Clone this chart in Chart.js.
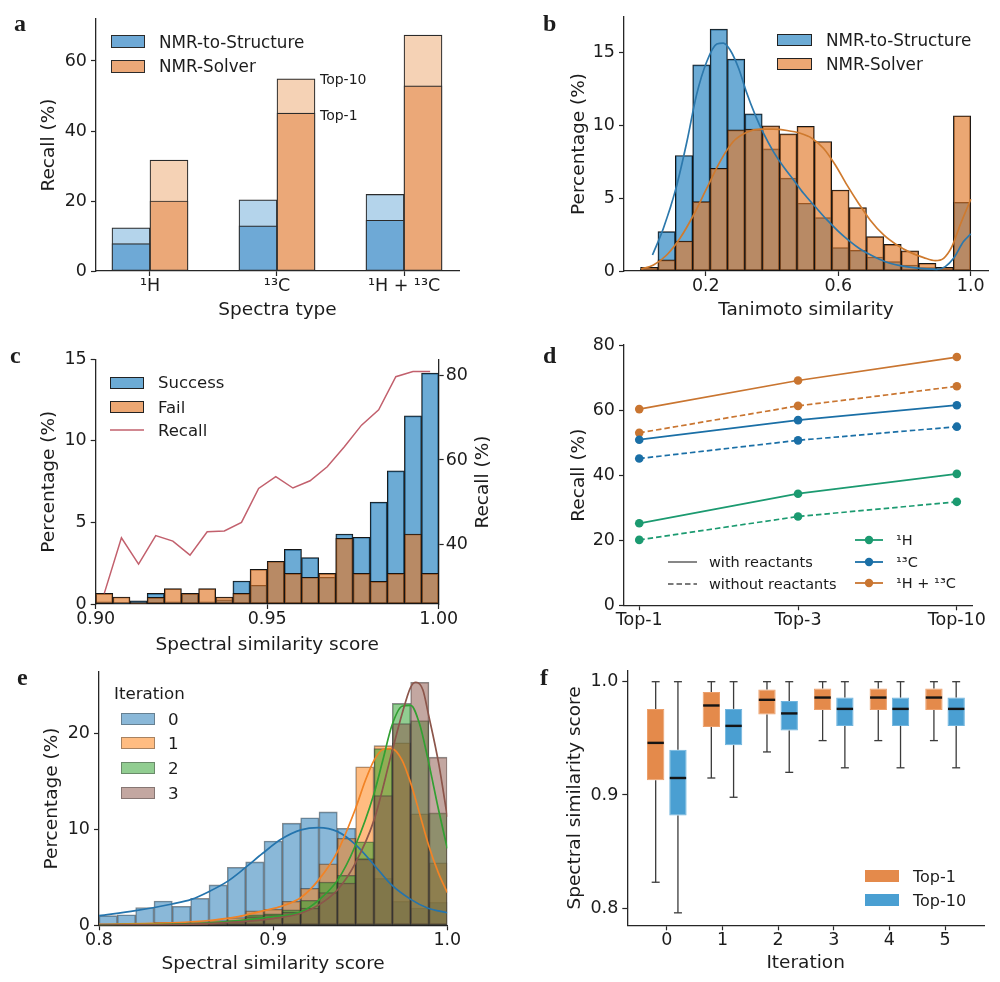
<!DOCTYPE html>
<html lang="en">
<head>
<meta charset="utf-8">
<title>NMR-Solver figure</title>
<script src="https://cdn.jsdelivr.net/npm/chart.js@4.4.1/dist/chart.umd.min.js"></script>
<style>
  html, body { margin:0; padding:0; background:#fff; }
  #wrap { position:relative; width:1000px; height:982px; overflow:hidden; background:#fff;
          font-family:'DejaVu Sans','Noto Sans',sans-serif; color:#1c1c1c; }
  #wrap canvas { position:absolute; }
  .letter { position:absolute; font-family:'Liberation Serif','DejaVu Serif',serif; font-weight:bold;
            font-size:24px; line-height:24px; }
  .t { position:absolute; white-space:nowrap; }
  .p { position:absolute; box-sizing:border-box; }
  .rot { position:absolute; white-space:nowrap; transform:translate(-50%,-50%) rotate(-90deg); }
  svg.overlay { position:absolute; left:0; top:0; pointer-events:none; }
</style>
</head>
<body>
<div id="wrap"></div>
<script>
// ================= DATA =================
// Panel a: recall by spectra type
const aCategories = ['¹H', '¹³C', '¹H + ¹³C'];
const aStructTop1 = [7.8, 12.9, 14.5];
const aStructTop10 = [12.3, 20.3, 21.9];
const aSolverTop1 = [20.0, 45.1, 52.9];
const aSolverTop10 = [31.7, 54.9, 67.4];
const aYTicks = [0, 20, 40, 60];

// Panel b: Tanimoto similarity histogram (19 bins)
const bBinStart = 0.003;
const bBinWidth = 0.05247;
const bStruct = [0.14, 2.71, 7.94, 14.17, 16.63, 14.56, 10.80, 8.39, 6.38, 4.66, 3.67, 1.61, 1.42, 0.96, 0.64, 0.41, 0.23, 0.14, 4.72];
const bSolver = [0.25, 0.76, 2.06, 4.77, 7.06, 9.70, 9.75, 9.98, 9.43, 9.95, 8.90, 5.57, 4.36, 2.36, 1.83, 1.38, 0.53, 0.25, 10.67];
const bStructKdeX = [0.039, 0.072, 0.110, 0.143, 0.172, 0.203, 0.233, 0.253, 0.273, 0.299, 0.322, 0.349, 0.374, 0.404, 0.434, 0.465, 0.495, 0.530, 0.566, 0.601, 0.636, 0.666, 0.701, 0.742, 0.787, 0.827, 0.868, 0.898, 0.923, 0.948, 0.978, 1.0];
const bStructKdeY = [1.10, 2.94, 5.69, 8.90, 12.11, 14.40, 15.60, 15.67, 15.21, 13.94, 12.34, 10.73, 9.47, 8.21, 7.18, 6.26, 5.34, 4.43, 3.51, 2.71, 2.02, 1.51, 1.06, 0.64, 0.37, 0.23, 0.14, 0.11, 0.30, 0.87, 2.02, 2.55];
const bSolverKdeX = [0.005, 0.042, 0.082, 0.122, 0.163, 0.203, 0.243, 0.283, 0.324, 0.364, 0.404, 0.445, 0.485, 0.520, 0.555, 0.591, 0.626, 0.661, 0.696, 0.737, 0.777, 0.817, 0.858, 0.893, 0.918, 0.943, 0.968, 1.0];
const bSolverKdeY = [0.14, 0.41, 1.10, 2.25, 3.85, 5.69, 7.52, 8.90, 9.54, 9.75, 9.75, 9.66, 9.47, 9.13, 8.44, 7.29, 5.92, 4.66, 3.51, 2.48, 1.79, 1.28, 0.92, 0.71, 0.87, 1.67, 3.17, 4.93];
const bXTicks = [0.2, 0.6, 1.0];
const bXLabels = ['0.2', '0.6', '1.0'];
const bYTicks = [0, 5, 10, 15];

// Panel c: success / fail vs spectral similarity (20 bins)
const cBinStart = 0.90;
const cBinWidth = 0.005;
const cSuccess = [0.14, 0.05, 0.20, 0.65, 0.14, 0.65, 0.14, 0.25, 1.41, 1.15, 2.62, 3.35, 2.84, 1.64, 4.29, 4.09, 6.24, 8.16, 11.53, 14.15];
const cFail = [0.65, 0.43, 0.08, 0.41, 0.94, 0.65, 0.94, 0.43, 0.65, 2.13, 2.62, 1.88, 1.64, 1.88, 4.03, 1.88, 1.39, 1.88, 4.29, 1.88];
const cRecall = [28.6, 41.7, 35.5, 42.2, 40.9, 37.6, 43.1, 43.3, 45.3, 53.3, 56.1, 53.4, 55.1, 58.4, 63.1, 68.2, 71.8, 79.6, 80.8, 80.8];
const cXTicks = [0.90, 0.95, 1.00];
const cXLabels = ['0.90', '0.95', '1.00'];
const cYTicks = [0, 5, 10, 15];
const cY2Ticks = [40, 60, 80];

// Panel d: recall vs top-k
const dLabels = ['Top-1', 'Top-3', 'Top-10'];
const dHWith = [25.2, 34.3, 40.4];
const dHWithout = [20.1, 27.3, 31.8];
const dCWith = [50.9, 56.9, 61.5];
const dCWithout = [45.1, 50.7, 54.9];
const dHCWith = [60.3, 69.1, 76.3];
const dHCWithout = [53.0, 61.3, 67.3];
const dYTicks = [0, 20, 40, 60, 80];

// Panel e: spectral similarity per iteration (19 bins)
const eBinStart = 0.80;
const eBinWidth = 0.2 / 19;
const eIter0 = [1.0, 1.1, 1.84, 2.53, 1.98, 2.81, 4.2, 6.04, 6.6, 8.78, 10.63, 11.2, 11.8, 10.1, 7.0, 4.9, 2.5, 1.8, 2.4];
const eIter1 = [0.1, 0.15, 0.2, 0.3, 0.3, 0.4, 0.5, 0.8, 1.5, 1.67, 2.5, 3.85, 6.4, 9.06, 16.5, 18.7, 19.0, 11.6, 6.5];
const eIter2 = [0.05, 0.05, 0.1, 0.1, 0.15, 0.2, 0.3, 0.5, 1.1, 1.2, 1.6, 2.6, 4.5, 5.2, 8.7, 18.4, 23.1, 21.3, 11.7];
const eIter3 = [0.0, 0.05, 0.05, 0.1, 0.1, 0.15, 0.2, 0.4, 0.9, 1.1, 1.35, 1.8, 3.4, 4.4, 6.9, 13.5, 21.0, 25.3, 17.5];
const eKde0X = [0.800, 0.821, 0.842, 0.853, 0.863, 0.874, 0.884, 0.894, 0.905, 0.916, 0.926, 0.937, 0.947, 0.958, 0.968, 0.979, 0.989, 1.0];
const eKde0Y = [1.0, 1.52, 2.22, 2.7, 3.5, 4.6, 6.0, 7.5, 9.0, 9.93, 10.17, 9.75, 8.44, 6.28, 4.2, 2.7, 1.77, 1.31];
const eKde1X = [0.800, 0.830, 0.860, 0.880, 0.894, 0.905, 0.916, 0.926, 0.937, 0.947, 0.953, 0.958, 0.963, 0.968, 0.974, 0.979, 0.984, 0.989, 0.995, 1.0];
const eKde1Y = [0.1, 0.2, 0.45, 0.9, 1.5, 2.0, 2.9, 4.7, 7.7, 12.0, 15.1, 17.2, 18.3, 18.4, 17.2, 14.8, 11.7, 8.5, 5.4, 3.4];
const eKde2X = [0.800, 0.850, 0.880, 0.900, 0.916, 0.926, 0.937, 0.947, 0.958, 0.963, 0.968, 0.974, 0.979, 0.984, 0.989, 0.995, 1.0];
const eKde2Y = [0.05, 0.15, 0.5, 0.9, 1.4, 2.6, 4.7, 8.2, 13.75, 17.2, 20.7, 22.8, 22.9, 21.0, 17.2, 12.0, 8.0];
const eKde3X = [0.800, 0.850, 0.880, 0.900, 0.916, 0.926, 0.937, 0.947, 0.958, 0.968, 0.974, 0.979, 0.982, 0.986, 0.989, 0.995, 1.0];
const eKde3Y = [0.02, 0.1, 0.35, 0.7, 1.25, 2.1, 3.7, 6.4, 11.0, 17.9, 22.0, 24.8, 25.3, 24.5, 22.1, 16.9, 11.3];
const eXTicks = [0.8, 0.9, 1.0];
const eXLabels = ['0.8', '0.9', '1.0'];
const eYTicks = [0, 10, 20];

// Panel f: box plots per iteration
const fIterations = [0, 1, 2, 3, 4, 5];
const fTop1Min = [0.823, 0.915, 0.938, 0.948, 0.948, 0.948];
const fTop1Q1  = [0.913, 0.960, 0.971, 0.975, 0.975, 0.975];
const fTop1Med = [0.946, 0.979, 0.984, 0.986, 0.986, 0.986];
const fTop1Q3  = [0.976, 0.991, 0.993, 0.994, 0.994, 0.994];
const fTop1Max = [1.0, 1.0, 1.0, 1.0, 1.0, 1.0];
const fTop10Min = [0.796, 0.898, 0.920, 0.924, 0.924, 0.924];
const fTop10Q1  = [0.882, 0.944, 0.957, 0.961, 0.961, 0.961];
const fTop10Med = [0.915, 0.961, 0.972, 0.976, 0.976, 0.976];
const fTop10Q3  = [0.940, 0.976, 0.983, 0.986, 0.986, 0.986];
const fTop10Max = [1.0, 1.0, 1.0, 1.0, 1.0, 1.0];
const fYTicks = [0.8, 0.9, 1.0];
const fYLabels = ['0.8', '0.9', '1.0'];

// ================= HELPERS =================
const FONT = "'DejaVu Sans', 'Noto Sans', sans-serif";
const TXT = '#1c1c1c';
const AX = '#262626';
const TICK_SIZE = 17.5;
const TITLE_SIZE = 18.5;
const wrap = document.getElementById('wrap');

const pts = (xs, ys) => xs.map((x, i) => ({ x: x, y: ys[i] }));
const centers = (start, width, n) => Array.from({ length: n }, (_, i) => start + width * (i + 0.5));

function mkCanvas(L, T, W, H) {
  const c = document.createElement('canvas');
  c.width = W; c.height = H;
  c.style.left = L + 'px'; c.style.top = T + 'px';
  c.style.width = W + 'px'; c.style.height = H + 'px';
  wrap.appendChild(c);
  return c;
}

function axis(o) {
  const horiz = o.pos === 'bottom';
  const labels = o.labels || o.ticks.map(String);
  const a = {
    type: 'linear', position: o.pos, min: o.min, max: o.max, bounds: 'data', offset: false,
    grid: { display: true, drawOnChartArea: false, drawTicks: true, tickLength: 5, tickWidth: 1.2, tickColor: AX, offset: false },
    border: { display: true, color: AX, width: 1.3 },
    ticks: { display: true, autoSkip: false, maxRotation: 0, minRotation: 0, padding: o.tickPad,
             color: TXT, font: { family: FONT, size: TICK_SIZE }, callback: (v, i) => labels[i] },
    title: o.title ? { display: true, text: o.title, color: TXT, font: { family: FONT, size: TITLE_SIZE },
             padding: horiz ? { top: 0, bottom: o.titlePad } : { top: o.titlePad, bottom: 0 } } : { display: false },
    afterBuildTicks: (s) => { s.ticks = o.ticks.map(v => ({ value: v })); },
    afterFit: (s) => { if (horiz) s.height = o.size; else s.width = o.size; }
  };
  if (o.stacked !== undefined) a.stacked = o.stacked;
  return a;
}

function baseOptions(padding, scales) {
  return {
    responsive: false, animation: false, events: [],
    layout: { padding: padding },
    plugins: { legend: { display: false }, tooltip: { enabled: false } },
    scales: scales
  };
}

function hist(label, xs, ys, color, border, order, bw) {
  return { type: 'bar', label: label, data: pts(xs, ys), backgroundColor: color, borderColor: border,
           borderWidth: bw, borderSkipped: false, grouped: false, barPercentage: 1, categoryPercentage: 1, order: order };
}
function kde(label, xs, ys, color, order, yAxisID, straight) {
  const d = { type: 'line', label: label, data: pts(xs, ys), borderColor: color, borderWidth: 1.7, pointRadius: 0,
           fill: false, order: order };
  if (straight) { d.tension = 0; d.borderWidth = 1.5; } else { d.cubicInterpolationMode = 'monotone'; }
  if (yAxisID) d.yAxisID = yAxisID;
  return d;
}

// legend helpers (HTML text + SVG shapes)
const svgNS = 'http://www.w3.org/2000/svg';
function addText(left, cy, str, size) {
  const d = document.createElement('div'); d.className = 't';
  const lh = Math.round(size * 1.3);
  d.style.left = left + 'px'; d.style.top = (cy - lh / 2) + 'px';
  d.style.fontSize = size + 'px'; d.style.lineHeight = lh + 'px';
  d.textContent = str; wrap.appendChild(d);
}
function addRotText(cx, cy, str, size) {
  const d = document.createElement('div'); d.className = 'rot';
  const lh = Math.round(size * 1.3);
  d.style.left = cx + 'px'; d.style.top = cy + 'px';
  d.style.fontSize = size + 'px'; d.style.lineHeight = lh + 'px';
  d.textContent = str; wrap.appendChild(d);
}
function addPatch(left, cy, w, h, fill, border) {
  const d = document.createElement('div'); d.className = 'p';
  d.style.left = left + 'px'; d.style.top = (cy - h / 2) + 'px';
  d.style.width = w + 'px'; d.style.height = h + 'px';
  d.style.background = fill;
  d.style.border = border ? ('1px solid ' + border) : 'none';
  wrap.appendChild(d);
}
function addLetter(left, baseline, ch) {
  const d = document.createElement('div'); d.className = 'letter';
  d.style.left = left + 'px'; d.style.top = (baseline - 20.1) + 'px';
  d.textContent = ch; wrap.appendChild(d);
}
let svg;
function svgLine(x1, x2, y, color, width, dash) {
  const l = document.createElementNS(svgNS, 'line');
  l.setAttribute('x1', x1); l.setAttribute('x2', x2); l.setAttribute('y1', y); l.setAttribute('y2', y);
  l.setAttribute('stroke', color); l.setAttribute('stroke-width', width);
  if (dash) l.setAttribute('stroke-dasharray', dash);
  svg.appendChild(l);
}
function svgDot(cx, cy, r, color) {
  const c = document.createElementNS(svgNS, 'circle');
  c.setAttribute('cx', cx); c.setAttribute('cy', cy); c.setAttribute('r', r); c.setAttribute('fill', color);
  svg.appendChild(c);
}

// ================= PANEL a =================
const aX = aCategories.map((_, i) => i);
const aAnnot = {
  id: 'aAnnot',
  afterDatasetsDraw(chart) {
    const ctx = chart.ctx, y = chart.scales.y;
    const el = chart.getDatasetMeta(3).data[1];
    const x = el.x + el.width / 2 + 5;
    ctx.save();
    ctx.font = '14px ' + FONT; ctx.fillStyle = TXT; ctx.textAlign = 'left'; ctx.textBaseline = 'middle';
    ctx.fillText('Top-10', x, y.getPixelForValue(aSolverTop10[1]) + 2);
    ctx.fillText('Top-1', x, y.getPixelForValue(aSolverTop1[1]) + 3);
    ctx.restore();
  }
};
function aBar(label, ys, stack, order, color) {
  return { label: label, data: pts(aX, ys), stack: stack, order: order, backgroundColor: color,
           borderColor: '#2b2b2b', borderWidth: 1.2, borderSkipped: false, barThickness: 38 };
}
new Chart(mkCanvas(0, 0, 500, 330), {
  type: 'bar',
  data: { datasets: [
    aBar('NMR-to-Structure (Top-1)', aStructTop1, 'struct', 1, '#6ea9d6'),
    aBar('NMR-to-Structure (Top-10)', aStructTop10, 'struct', 2, '#b4d4eb'),
    aBar('NMR-Solver (Top-1)', aSolverTop1, 'solver', 1, '#eba878'),
    aBar('NMR-Solver (Top-10)', aSolverTop10, 'solver', 2, '#f5d2b5')
  ]},
  options: baseOptions({ left: 0, top: 19, right: 41, bottom: 0 }, {
    x: axis({ pos: 'bottom', min: -0.425, max: 2.433, ticks: aX, labels: aCategories, size: 59,
              title: 'Spectra type', titlePad: 8.9, tickPad: 0 }),
    y: axis({ pos: 'left', min: 0, max: 72, ticks: aYTicks, size: 96, title: 'Recall (%)', titlePad: 38.4, tickPad: 4, stacked: false })
  }),
  plugins: [aAnnot]
});

// ================= PANEL b =================
const bCenters = centers(bBinStart, bBinWidth, bStruct.length);
const BLUE_H = 'rgba(45,135,195,0.7)';
const ORANGE_H = 'rgba(225,120,40,0.65)';
new Chart(mkCanvas(500, 0, 500, 330), {
  type: 'bar',
  data: { datasets: [
    hist('NMR-to-Structure', bCenters, bStruct, BLUE_H, '#151515', 4, 1),
    hist('NMR-Solver', bCenters, bSolver, ORANGE_H, '#151515', 3, 1),
    kde('NMR-to-Structure KDE', bStructKdeX, bStructKdeY, '#2c78ac', 2),
    kde('NMR-Solver KDE', bSolverKdeX, bSolverKdeY, '#cf7a2e', 1)
  ]},
  options: baseOptions({ left: 0, top: 17, right: 12, bottom: 0 }, {
    x: axis({ pos: 'bottom', min: -0.047, max: 1.052, ticks: bXTicks, labels: bXLabels, size: 59,
              title: 'Tanimoto similarity', titlePad: 8.9, tickPad: 0 }),
    y: axis({ pos: 'left', min: 0, max: 17.46, ticks: bYTicks, size: 124, title: 'Percentage (%)', titlePad: 67.9, tickPad: 4 })
  })
});

// ================= PANEL c =================
const cCenters = centers(cBinStart, cBinWidth, cSuccess.length);
new Chart(mkCanvas(0, 330, 500, 330), {
  type: 'bar',
  data: { datasets: [
    hist('Success', cCenters, cSuccess, BLUE_H, '#151515', 3, 1),
    hist('Fail', cCenters, cFail, ORANGE_H, '#151515', 2, 1),
    kde('Recall', cCenters, cRecall, '#c2606d', 1, 'y1', true)
  ]},
  options: baseOptions({ left: 0, top: 29.3, right: 0, bottom: 0 }, {
    x: axis({ pos: 'bottom', min: 0.9, max: 1.0, ticks: cXTicks, labels: cXLabels, size: 56,
              title: 'Spectral similarity score', titlePad: 3.9, tickPad: 0 }),
    y: axis({ pos: 'left', min: 0, max: 15, ticks: cYTicks, size: 95.7, title: 'Percentage (%)', titlePad: 37.9, tickPad: 4 }),
    y1: axis({ pos: 'right', min: 26.1, max: 83.7, ticks: cY2Ticks, size: 61.3, tickPad: 2 })
  })
});

// ================= PANEL d =================
const dX = dLabels.map((_, i) => i);
const D_GREEN = '#1b9a70', D_BLUE = '#1a6fa6', D_ORANGE = '#c97530';
function dLine(label, ys, color, dashed) {
  return { label: label, data: pts(dX, ys), borderColor: color, backgroundColor: color, borderWidth: 1.7,
           borderDash: dashed ? [5.5, 3] : [], pointRadius: 4.3, pointBorderWidth: 0, pointBackgroundColor: color, fill: false, tension: 0 };
}
new Chart(mkCanvas(500, 330, 500, 320), {
  type: 'line',
  data: { datasets: [
    dLine('¹H with reactants', dHWith, D_GREEN, false),
    dLine('¹H without reactants', dHWithout, D_GREEN, true),
    dLine('¹³C with reactants', dCWith, D_BLUE, false),
    dLine('¹³C without reactants', dCWithout, D_BLUE, true),
    dLine('¹H + ¹³C with reactants', dHCWith, D_ORANGE, false),
    dLine('¹H + ¹³C without reactants', dHCWithout, D_ORANGE, true)
  ]},
  options: baseOptions({ left: 0, top: 15, right: 27.3, bottom: 0 }, {
    x: axis({ pos: 'bottom', min: -0.096, max: 2.1, ticks: dX, labels: dLabels, size: 44.7, tickPad: 0 }),
    y: axis({ pos: 'left', min: 0, max: 80, ticks: dYTicks, size: 124, title: 'Recall (%)', titlePad: 67.9, tickPad: 4 })
  })
});

// ================= PANEL e =================
const eCenters = centers(eBinStart, eBinWidth, eIter0.length);
const E_EDGE = 'rgba(45,45,45,0.55)';
new Chart(mkCanvas(0, 650, 500, 332), {
  type: 'bar',
  data: { datasets: [
    hist('0', eCenters, eIter0, 'rgba(31,119,180,0.52)', E_EDGE, 8, 0.9),
    hist('1', eCenters, eIter1, 'rgba(255,127,14,0.52)', E_EDGE, 7, 0.9),
    hist('2', eCenters, eIter2, 'rgba(44,160,44,0.52)', E_EDGE, 6, 0.9),
    hist('3', eCenters, eIter3, 'rgba(140,86,75,0.52)', E_EDGE, 5, 0.9),
    kde('0 KDE', eKde0X, eKde0Y, '#2474ad', 4),
    kde('1 KDE', eKde1X, eKde1Y, '#f28325', 3),
    kde('2 KDE', eKde2X, eKde2Y, '#32a032', 2),
    kde('3 KDE', eKde3X, eKde3Y, '#8c564b', 1)
  ]},
  options: baseOptions({ left: 0, top: 21.7, right: 52.7, bottom: 0 }, {
    x: axis({ pos: 'bottom', min: 0.8, max: 1.0, ticks: eXTicks, labels: eXLabels, size: 56.7,
              title: 'Spectral similarity score', titlePad: 6.9, tickPad: 0 }),
    y: axis({ pos: 'left', min: 0, max: 26.4, ticks: eYTicks, size: 99, title: 'Percentage (%)', titlePad: 40.9, tickPad: 4 })
  })
});

// ================= PANEL f =================
const fStats = [
  { min: fTop1Min, med: fTop1Med, max: fTop1Max, q1: fTop1Q1, q3: fTop1Q3 },
  { min: fTop10Min, med: fTop10Med, max: fTop10Max, q1: fTop10Q1, q3: fTop10Q3 }
];
const fWhiskers = {
  id: 'fWhiskers',
  afterDatasetsDraw(chart) {
    const ctx = chart.ctx, y = chart.scales.y;
    const seg = (x1, y1, x2, y2) => { ctx.beginPath(); ctx.moveTo(x1, y1); ctx.lineTo(x2, y2); ctx.stroke(); };
    ctx.save();
    fStats.forEach((s, di) => {
      chart.getDatasetMeta(di).data.forEach((el, i) => {
        const x = el.x, w = el.width;
        const pMin = y.getPixelForValue(s.min[i]), pMax = y.getPixelForValue(s.max[i]);
        const pQ1 = y.getPixelForValue(s.q1[i]), pQ3 = y.getPixelForValue(s.q3[i]);
        const pMed = y.getPixelForValue(s.med[i]);
        ctx.strokeStyle = '#3b3b3b'; ctx.lineWidth = 1.3;
        seg(x, pQ3, x, pMax); seg(x, pQ1, x, pMin);
        seg(x - w * 0.23, pMax, x + w * 0.23, pMax);
        seg(x - w * 0.23, pMin, x + w * 0.23, pMin);
        ctx.strokeStyle = '#141414'; ctx.lineWidth = 2.4;
        seg(x - w / 2 + 0.5, pMed, x + w / 2 - 0.5, pMed);
      });
    });
    ctx.restore();
  }
};
function fBox(label, q1, q3, fill, edge) {
  return { label: label, data: fIterations.map((x, i) => ({ x: x, y: [q1[i], q3[i]] })),
           backgroundColor: fill, borderColor: edge, borderWidth: 1, borderSkipped: false,
           categoryPercentage: 0.8, barPercentage: 0.78 };
}
new Chart(mkCanvas(500, 650, 500, 332), {
  type: 'bar',
  data: { datasets: [
    fBox('Top-1', fTop1Q1, fTop1Q3, '#e48a4b', '#eda06c'),
    fBox('Top-10', fTop10Q1, fTop10Q3, '#4a9fd2', '#70b5de')
  ]},
  options: baseOptions({ left: 0, top: 20.7, right: 16, bottom: 0 }, {
    x: axis({ pos: 'bottom', min: -0.71, max: 5.7, ticks: fIterations, size: 56.7,
              title: 'Iteration', titlePad: 7.9, tickPad: 0 }),
    y: axis({ pos: 'left', min: 0.785, max: 1.0097, ticks: fYTicks, labels: fYLabels, size: 127.3,
              title: 'Spectral similarity score', titlePad: 63.9, tickPad: 4 })
  }),
  plugins: [fWhiskers]
});

// ================= LEGENDS, TITLES & LETTERS =================
svg = document.createElementNS(svgNS, 'svg');
svg.setAttribute('class', 'overlay'); svg.setAttribute('width', 1000); svg.setAttribute('height', 982);
wrap.appendChild(svg);

// c right axis title (reads bottom-to-top)
addRotText(482, 481.7, 'Recall (%)', TITLE_SIZE);

// a
addPatch(111, 41.5, 34, 13, '#6ea9d6', '#2b2b2b'); addText(159, 41.5, 'NMR-to-Structure', 16.8);
addPatch(111, 66, 34, 13, '#eba878', '#2b2b2b'); addText(159, 66, 'NMR-Solver', 16.8);
// b
addPatch(777, 40, 35, 12, '#6cabd5', '#222'); addText(826, 40, 'NMR-to-Structure', 16.8);
addPatch(777, 64, 35, 12, '#eca773', '#222'); addText(826, 64, 'NMR-Solver', 16.8);
// c
addPatch(110, 382.5, 34, 12, '#6cabd5', '#222'); addText(158, 382.5, 'Success', 16.5);
addPatch(110, 407, 34, 12, '#eca773', '#222'); addText(158, 407, 'Fail', 16.5);
svgLine(110, 144, 430, '#c2606d', 1.6); addText(158, 430, 'Recall', 16.5);
// d
svgLine(668, 697, 562, '#7a7a7a', 1.8); addText(709, 562, 'with reactants', 14.5);
svgLine(668, 697, 584, '#7a7a7a', 1.8, '5.5 3'); addText(709, 584, 'without reactants', 14.5);
[[540, D_GREEN, '¹H'], [562, D_BLUE, '¹³C'], [583, D_ORANGE, '¹H + ¹³C']].forEach(r => {
  svgLine(855, 883, r[0], r[1], 1.8); svgDot(869, r[0], 4.2, r[1]); addText(896, r[0], r[2], 14.5);
});
// e
addText(114, 693, 'Iteration', 16.7);
[[718.5, 'rgba(31,119,180,0.52)', '0'], [743, 'rgba(255,127,14,0.52)', '1'],
 [768, 'rgba(44,160,44,0.52)', '2'], [792.5, 'rgba(140,86,75,0.52)', '3']].forEach(r => {
  addPatch(121, r[0], 34, 12, r[1], 'rgba(60,60,60,0.45)'); addText(168, r[0], r[2], 16.7);
});
// f
addPatch(865, 876, 34, 12, '#e48a4b', null); addText(913, 876, 'Top-1', 16);
addPatch(865, 900, 34, 12, '#4a9fd2', null); addText(913, 900, 'Top-10', 16);

// panel letters
addLetter(14, 31, 'a');
addLetter(543, 31, 'b');
addLetter(10, 363, 'c');
addLetter(543, 363, 'd');
addLetter(17, 685, 'e');
addLetter(540, 685, 'f');
</script>
</body>
</html>
